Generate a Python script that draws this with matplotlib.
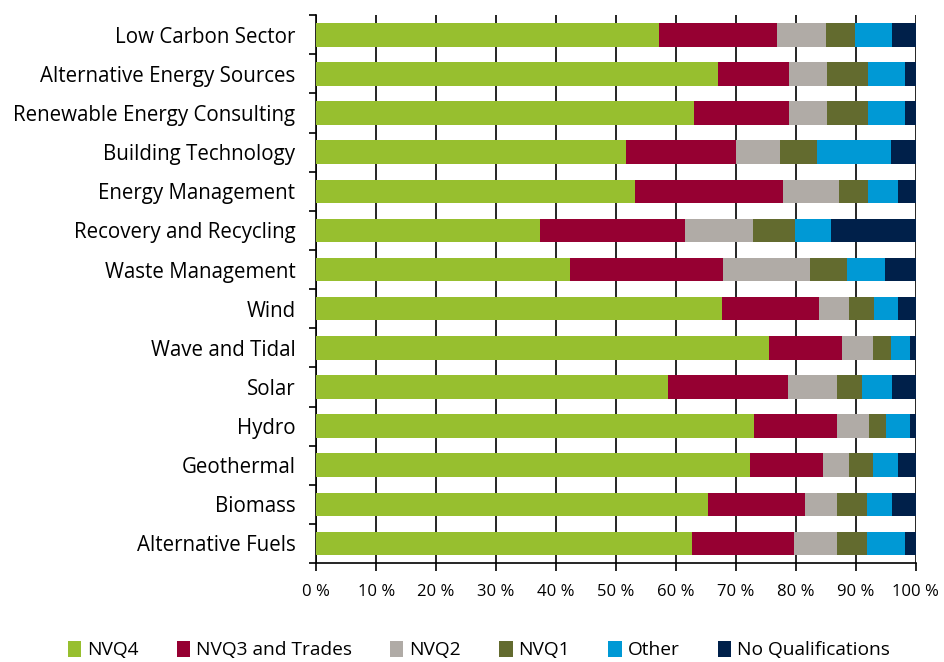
import numpy as np
import matplotlib
matplotlib.use('Agg')
from matplotlib import pyplot as plt

plt.rcParams['font.family'] = ['Open Sans', 'DejaVu Sans']

sectors = ['Low Carbon Sector', 'Alternative Energy Sources', 'Renewable Energy Consulting',
           'Building Technology', 'Energy Management', 'Recovery and Recycling',
           'Waste Management', 'Wind', 'Wave and Tidal', 'Solar', 'Hydro',
           'Geothermal', 'Biomass', 'Alternative Fuels']

series = ['NVQ4', 'NVQ3 and Trades', 'NVQ2', 'NVQ1', 'Other', 'No Qualifications']

nvq4 = [57.1, 67.1, 63.1, 51.6, 53.1, 37.4, 42.3, 67.7, 75.5, 58.7, 73.1, 72.4, 65.4, 62.7]
nvq3 = [19.8, 11.7, 15.7, 18.4, 24.8, 24.1, 25.6, 16.1, 12.2, 20.0, 13.8, 12.2, 16.2, 17.0]
nvq2 = [8.1, 6.4, 6.4, 7.4, 9.3, 11.3, 14.5, 5.1, 5.2, 8.2, 5.3, 4.3, 5.3, 7.2]
nvq1 = [4.9, 6.8, 6.8, 6.2, 4.8, 7.0, 6.2, 4.1, 3.0, 4.1, 2.8, 4.0, 5.0, 5.0]
other = [6.2, 6.2, 6.2, 12.3, 5.1, 6.1, 6.2, 4.1, 3.1, 5.1, 4.1, 4.2, 4.2, 6.3]
noqual = [3.9, 1.8, 1.8, 4.1, 2.9, 14.1, 5.2, 2.9, 1.0, 3.9, 0.9, 2.9, 3.9, 1.8]

colors = ['#97bf2f', '#960032', '#b0aba6', '#636b2f', '#0099d5', '#00204a']

data = [nvq4, nvq3, nvq2, nvq1, other, noqual]

fig = plt.figure(figsize=(9.44, 6.62), dpi=100)
ax = fig.add_axes([0.335, 0.1495, 0.635, 0.8275])

y = np.arange(len(sectors))
left = np.zeros(len(sectors))
for vals, name, col in zip(data, series, colors):
    vals = np.array(vals)
    ax.barh(y, vals, left=left, height=0.6, color=col, label=name, zorder=3)
    left += vals

ax.set_ylim(len(sectors) - 0.5, -0.5)
ax.set_xlim(0, 100)

# gridlines in black behind the bars
ax.set_xticks(np.arange(0, 101, 10))
ax.set_xticklabels(['%d %%' % v for v in range(0, 101, 10)], fontsize=12)
ax.grid(axis='x', color='black', linewidth=1.2, zorder=0)
ax.tick_params(axis='x', length=6, width=1.2, pad=9, color='black')

ax.set_yticks(y)
ax.set_yticklabels(sectors, fontsize=14.8)
ax.set_yticks(np.arange(-0.5, len(sectors), 1), minor=True)
ax.tick_params(axis='y', which='major', length=0, pad=15)
ax.tick_params(axis='y', which='minor', length=5, width=1.2)

for s in ['top', 'right']:
    ax.spines[s].set_visible(False)
for s in ['left', 'bottom']:
    ax.spines[s].set_linewidth(1.2)

fig.legend(loc='lower center', bbox_to_anchor=(0.507, -0.022), ncol=6, frameon=False,
           fontsize=13.8, handlelength=0.7, handleheight=0.9, handletextpad=0.3,
           columnspacing=2.0)

plt.savefig('out.png', dpi=100)
